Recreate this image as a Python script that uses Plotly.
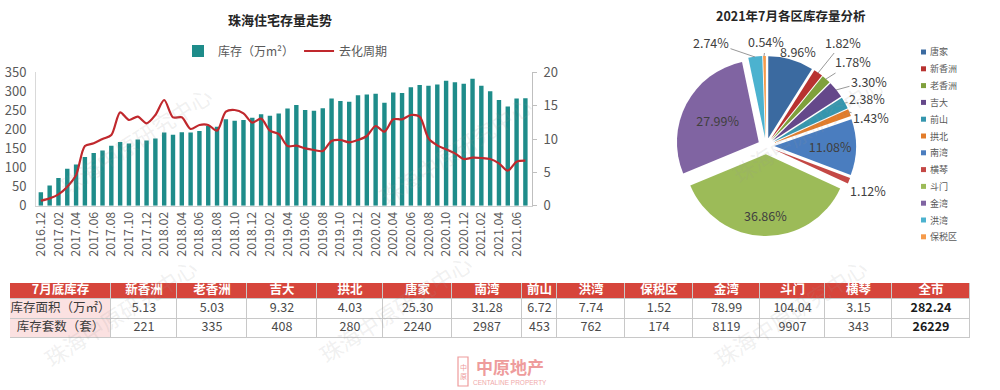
import plotly.graph_objects as go

# ---------------- data ----------------
months = ["2016.12",
          "2017.01", "2017.02", "2017.03", "2017.04", "2017.05", "2017.06",
          "2017.07", "2017.08", "2017.09", "2017.10", "2017.11", "2017.12",
          "2018.01", "2018.02", "2018.03", "2018.04", "2018.05", "2018.06",
          "2018.07", "2018.08", "2018.09", "2018.10", "2018.11", "2018.12",
          "2019.01", "2019.02", "2019.03", "2019.04", "2019.05", "2019.06",
          "2019.07", "2019.08", "2019.09", "2019.10", "2019.11", "2019.12",
          "2020.01", "2020.02", "2020.03", "2020.04", "2020.05", "2020.06",
          "2020.07", "2020.08", "2020.09", "2020.10", "2020.11", "2020.12",
          "2021.01", "2021.02", "2021.03", "2021.04", "2021.05", "2021.06",
          "2021.07"]

inventory = [35, 53, 73, 97, 108, 128, 138, 145, 157, 167, 163, 174, 171,
             176, 192, 186, 193, 192, 196, 209, 207, 227, 223, 225, 231,
             240, 236, 242, 255, 264, 251, 249, 256, 281, 275, 273, 290,
             292, 294, 270, 297, 296, 311, 317, 315, 318, 328, 324, 320,
             333, 315, 300, 277, 260, 281, 282]

cycle = [0.75, 1.1, 1.7, 2.85, 4.6, 8.95, 9.35, 10.0, 10.6, 14.0, 12.85, 13.35, 12.35,
         13.6, 15.85, 13.25, 13.25, 11.5, 12.1, 12.1, 11.25, 14.1, 14.35, 13.85, 12.45,
         13.05, 11.25, 10.75, 8.95, 9.0, 8.6, 8.35, 8.2, 9.7, 9.85, 9.5, 9.85,
         10.45, 11.95, 11.1, 12.95, 12.95, 13.6, 13.35, 10.1, 9.05, 8.45, 7.85, 7.0,
         7.2, 7.15, 7.0, 6.35, 5.25, 6.6, 6.75]

month_ticks = months[::2]

pie_labels = ["唐家", "新香洲", "老香洲", "吉大", "前山", "拱北",
              "南湾", "横琴", "斗门", "金湾", "洪湾", "保税区"]
pie_share = [8.96, 1.82, 1.78, 3.30, 2.38, 1.43, 11.08, 1.12, 36.86, 27.99, 2.74, 0.54]

table_head = ["7月底库存", "新香洲", "老香洲", "吉大", "拱北", "唐家", "南湾", "前山",
              "洪湾", "保税区", "金湾", "斗门", "横琴", "全市"]
row_names = ["库存面积（万㎡）", "库存套数（套）"]
area = [5.13, 5.03, 9.32, 4.03, 25.30, 31.28, 6.72, 7.74, 1.52, 78.99, 104.04, 3.15, 282.24]
units = [221, 335, 408, 280, 2240, 2987, 453, 762, 174, 8119, 9907, 343, 26229]

# ---------------- styling ----------------
FONT = "Noto Sans CJK SC, Noto Sans, sans-serif"
TEAL = "#1E8C8A"
RED = "#C0282D"
GREY = "#595959"
W, H = 1000, 390

pie_colors = ["#3B6AA0", "#B83230", "#7FA03C", "#65488A", "#3596AE", "#E27C2A",
              "#4A7DBF", "#C44845", "#9CBB58", "#8064A2", "#4CB2CF", "#F59A4A"]
# plotly draws two inside labels; the others are placed like the original (with leader lines)
pie_textpos = ["none", "none", "none", "none", "none", "none",
               "inside", "none", "none", "inside", "none", "none"]
# label placement (pixels): index -> (text x, text y, leader head x, leader head y or None)
label_place = {0: (798, 52, None, None),
               1: (843, 42, 818, 73),
               2: (853, 62, 826, 79),
               3: (869, 81, 836, 90),
               4: (867, 99, 845, 103),
               5: (871, 118, 849, 112),
               7: (868, 190, 849, 181),
               8: (765, 215, None, None),
               10: (711, 42, 755, 57),
               11: (766, 42, 764, 56)}

col_widths = [101, 66, 70, 70, 66, 69, 70, 35, 68, 68, 67, 65, 67, 78]
row_heights = [16, 19.5, 19.5]
TABLE_TOP, TABLE_BOTTOM = 283, 338


def px(x):
    return x / W


def py(y):
    return 1 - y / H


def note(text, x, y, size, color, **kw):
    d = dict(text=text, x=px(x), y=py(y), xref="paper", yref="paper", showarrow=False,
             xanchor="center", yanchor="middle",
             font=dict(family=kw.pop("family", FONT), size=size, color=color))
    d.update(kw)
    return d


fig = go.Figure()

fig.add_trace(go.Bar(
    x=months, y=inventory, name="库存（万m²）",
    marker=dict(color=TEAL, line=dict(width=0)),
    xaxis="x", yaxis="y",
))
fig.add_trace(go.Scatter(
    x=months, y=cycle, name="去化周期", mode="lines",
    line=dict(color=RED, width=2.2, shape="spline", smoothing=0.8),
    xaxis="x", yaxis="y2",
))

fig.add_trace(go.Pie(
    labels=pie_labels, values=pie_share, sort=False, direction="clockwise",
    rotation=0, pull=0.1,
    marker=dict(colors=pie_colors, line=dict(width=0)),
    texttemplate="%{value:.2f}%", textposition=pie_textpos,
    insidetextorientation="horizontal",
    textfont=dict(family=FONT, size=12.5, color="#404040"),
    domain=dict(x=[0.676, 0.856], y=[py(236), py(56)]),
    showlegend=False, hoverinfo="label+value",
))

# ---------- table (cells drawn as a heatmap on its own axes) ----------
x_edges = [0]
for w_ in col_widths:
    x_edges.append(x_edges[-1] + w_)
y_edges = [0]
for h_ in row_heights:
    y_edges.append(y_edges[-1] + h_)
ncol = len(table_head)
z = [[2] * ncol, [1] + [0] * (ncol - 1), [1] + [0] * (ncol - 1)]
PINK = "#FBE1E1"
HEADRED = "#D6453B"
fig.add_trace(go.Heatmap(
    x=x_edges, y=y_edges, z=z, zmin=0, zmax=2,
    colorscale=[[0, "white"], [0.33, "white"], [0.33, PINK], [0.67, PINK],
                [0.67, HEADRED], [1, HEADRED]],
    showscale=False, xgap=1, ygap=1, hoverinfo="skip",
    xaxis="x3", yaxis="y3",
))

col_centers = [(x_edges[i] + x_edges[i + 1]) / 2 for i in range(ncol)]
row_centers = [(y_edges[i] + y_edges[i + 1]) / 2 for i in range(3)]
tx, ty, tt, tc = [], [], [], []
for i, h in enumerate(table_head):
    tx.append(col_centers[i]); ty.append(row_centers[0]); tt.append("<b>" + h + "</b>"); tc.append("white")
for r, name in enumerate(row_names):
    tx.append(col_centers[0]); ty.append(row_centers[r + 1]); tt.append(name); tc.append("#3A3A3A")
for i in range(len(area)):
    last = (i == len(area) - 1)
    a_txt = f"{area[i]:.2f}"
    u_txt = f"{units[i]}"
    if last:
        a_txt, u_txt = "<b>" + a_txt + "</b>", "<b>" + u_txt + "</b>"
    tx += [col_centers[i + 1], col_centers[i + 1]]
    ty += [row_centers[1], row_centers[2]]
    tt += [a_txt, u_txt]
    tc += ["#1A1A1A" if last else "#4A4A4A"] * 2
fig.add_trace(go.Scatter(
    x=tx, y=ty, text=tt, mode="text", textposition="middle center",
    textfont=dict(family=FONT, size=12.5, color=tc),
    hoverinfo="skip", showlegend=False, cliponaxis=False,
    xaxis="x3", yaxis="y3",
))

annotations = []
shapes = []
# grey border behind the cells
shapes.append(dict(type="rect", xref="x3", yref="y3", x0=x_edges[0], x1=x_edges[-1],
                   y0=y_edges[0], y1=y_edges[-1], fillcolor="#C8C8C8",
                   line=dict(width=0), layer="below"))

# titles
annotations.append(note("<b>珠海住宅存量走势</b>", 280, 19, 13, "#262626"))
annotations.append(note("<b>2021年7月各区库存量分析</b>", 791, 16, 12.5, "#262626"))

# pie labels with leader lines
for idx, (lx, ly, hx, hy) in label_place.items():
    txt = f"{pie_share[idx]:.2f}%"
    if hx is None:
        annotations.append(note(txt, lx, ly, 12.5, "#404040"))
    else:
        annotations.append(dict(text=txt, x=px(hx), y=py(hy), xref="paper", yref="paper",
                                showarrow=True, arrowhead=0, arrowwidth=0.9,
                                arrowcolor="#8C8C8C", standoff=0, startstandoff=0,
                                ax=lx - hx, ay=ly - hy,
                                font=dict(family=FONT, size=12.5, color="#404040")))

# pie legend
for i, (lab, col) in enumerate(zip(pie_labels, pie_colors)):
    yc = 52 + 16.8 * i
    shapes.append(dict(type="rect", xref="paper", yref="paper",
                       x0=px(921), x1=px(926), y0=py(yc + 2.5), y1=py(yc - 2.5),
                       fillcolor=col, line=dict(width=0)))
    annotations.append(note(lab, 928, yc, 9, "#595959", xanchor="left"))

# watermarks
for (wx, wy) in [(135, 140), (455, 150), (808, 128), (120, 312), (395, 308), (790, 312)]:
    annotations.append(note("珠海中原研究中心", wx, wy, 22, "rgba(150,150,150,0.15)", textangle=-33))

# logo
annotations.append(note("<b>中原地产</b>", 510, 366, 17, "#EE9C9C"))
annotations.append(note("CENTALINE PROPERTY", 510, 382, 6.5, "#F0AAAA", family="Liberation Sans"))
shapes.append(dict(type="rect", xref="paper", yref="paper", x0=px(458), x1=px(468),
                   y0=py(386), y1=py(357), line=dict(color="#EE9C9C", width=1.2),
                   fillcolor="rgba(0,0,0,0)"))
annotations.append(note("中<br>原", 463, 371.5, 7, "#EE9C9C"))

fig.update_layout(
    template="none",
    width=W, height=H,
    margin=dict(l=0, r=0, t=0, b=0),
    paper_bgcolor="white", plot_bgcolor="rgba(0,0,0,0)",
    font=dict(family=FONT, color=GREY),
    bargap=0.5,
    xaxis=dict(domain=[px(36), px(532)], type="category", range=[-0.55, 55.75],
               tickmode="array", tickvals=month_ticks, ticktext=month_ticks,
               tickangle=-90, tickfont=dict(family=FONT, size=12.5, color=GREY),
               showline=True, linecolor="#D0D0D0", linewidth=1, ticks="",
               showgrid=False, zeroline=False, automargin=False, anchor="y"),
    yaxis=dict(domain=[py(205.7), py(72.3)], range=[0, 350], dtick=50,
               tickfont=dict(family=FONT, size=13, color=GREY), showgrid=False,
               showline=True, linecolor="#D9D9D9", linewidth=1, ticks="",
               ticklabelstandoff=6, zeroline=False, automargin=False, anchor="x"),
    yaxis2=dict(domain=[py(205.7), py(72.3)], range=[0, 20], dtick=5, overlaying="y",
                side="right", tickfont=dict(family=FONT, size=13, color=GREY),
                showgrid=False, showline=True, linecolor="#BFBFBF", linewidth=1,
                ticks="outside", ticklen=4, tickcolor="#BFBFBF", ticklabelstandoff=4,
                zeroline=False, automargin=False, anchor="x"),
    xaxis3=dict(domain=[0.01, 0.97], range=[x_edges[0], x_edges[-1]], visible=False,
                showgrid=False, zeroline=False, fixedrange=True, anchor="y3"),
    yaxis3=dict(domain=[py(TABLE_BOTTOM), py(TABLE_TOP)], range=[y_edges[-1], y_edges[0]],
                visible=False, showgrid=False, zeroline=False, fixedrange=True, anchor="x3"),
    legend=dict(orientation="h", x=px(178), y=py(51), xanchor="left", yanchor="middle",
                font=dict(family=FONT, size=12, color=GREY), bgcolor="rgba(0,0,0,0)",
                itemwidth=30, traceorder="normal"),
    showlegend=True,
    annotations=annotations,
    shapes=shapes,
)

fig.write_html("out.html", include_plotlyjs=True, full_html=True,
               config={"displayModeBar": False},
               post_script="document.body.style.margin='0px';document.body.style.overflow='hidden';")
